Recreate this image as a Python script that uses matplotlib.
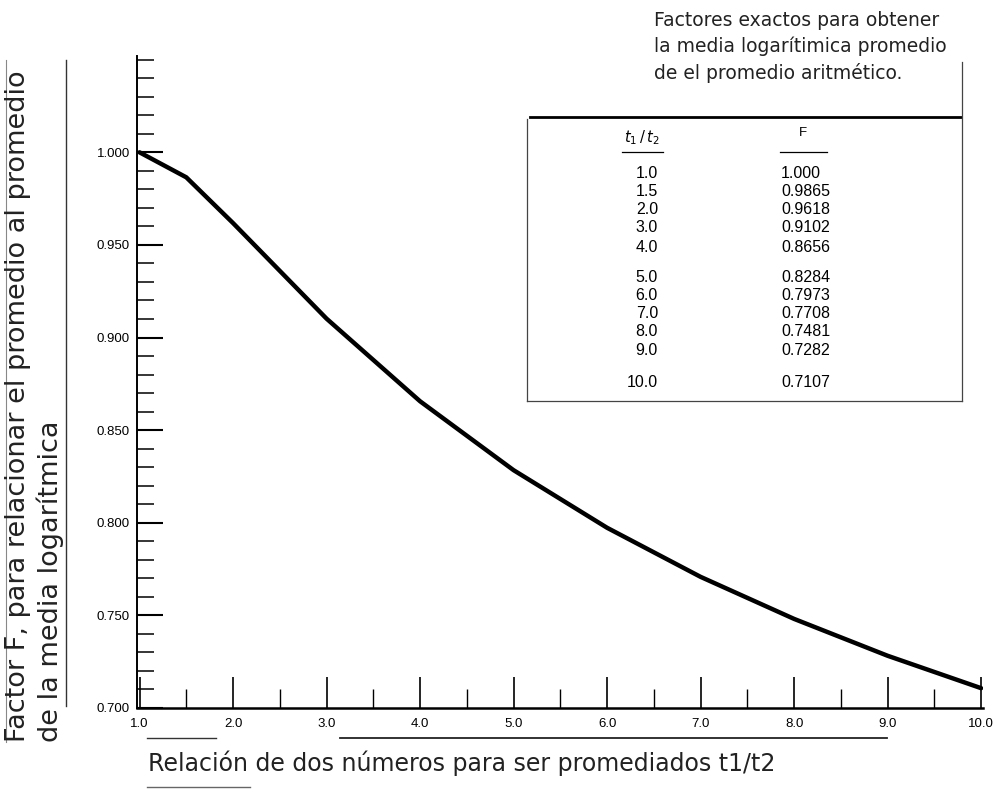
import matplotlib.pyplot as plt
from matplotlib.lines import Line2D
from matplotlib.ticker import MultipleLocator

# datos de la tabla (t1/t2 y factor F)
razon = [1.0, 1.5, 2.0, 3.0, 4.0, 5.0, 6.0, 7.0, 8.0, 9.0, 10.0]
factor = [1.000, 0.9865, 0.9618, 0.9102, 0.8656, 0.8284, 0.7973, 0.7708, 0.7481, 0.7282, 0.7107]
razon_txt = ['1.0', '1.5', '2.0', '3.0', '4.0', '5.0', '6.0', '7.0', '8.0', '9.0', '10.0']
factor_txt = ['1.000', '0.9865', '0.9618', '0.9102', '0.8656', '0.8284', '0.7973',
              '0.7708', '0.7481', '0.7282', '0.7107']
x_ticks = [1, 2, 3, 4, 5, 6, 7, 8, 9, 10]
x_labels = ['1.0', '2.0', '3.0', '4.0', '5.0', '6.0', '7.0', '8.0', '9.0', '10.0']
y_ticks = [0.70, 0.75, 0.80, 0.85, 0.90, 0.95, 1.00]
y_labels = ['0.700', '0.750', '0.800', '0.850', '0.900', '0.950', '1.000']

W, H = 1000, 789

def fx(px):
    return px / W

def fy(py):
    return 1 - py / H

plt.rcParams['font.family'] = ['DejaVu Sans']

fig = plt.figure(figsize=(10, 7.89), dpi=100)
ax = fig.add_axes([fx(137), fy(708), fx(983) - fx(137), fy(56) - fy(708)])

ax.plot(razon, factor, color='black', lw=3.2, solid_capstyle='round', solid_joinstyle='round')

ax.set_xlim(0.973, 10.02)
ax.set_ylim(0.700, 1.052)
ax.spines['top'].set_visible(False)
ax.spines['right'].set_visible(False)
ax.spines['left'].set_linewidth(1.4)
ax.spines['bottom'].set_linewidth(1.8)

ax.set_xticks(x_ticks)
ax.set_xticklabels(x_labels, family='Liberation Sans', fontsize=9.5)
ax.xaxis.set_minor_locator(MultipleLocator(0.5))
ax.set_yticks(y_ticks)
ax.set_yticklabels(y_labels, family='Liberation Sans', fontsize=9.5)
ax.yaxis.set_minor_locator(MultipleLocator(0.01))

ax.tick_params(axis='x', which='major', direction='in', length=22, width=1.2, pad=7)
ax.tick_params(axis='x', which='minor', direction='in', length=14, width=1.0)
ax.tick_params(axis='y', which='major', direction='in', length=19, width=1.5, pad=5)
ax.tick_params(axis='y', which='minor', direction='in', length=12, width=1.1)

# etiquetas de ejes
fig.text(fx(148), fy(763), 'Relación de dos números para ser promediados t1/t2',
         fontsize=17, ha='left', va='center', color='#222222')
fig.text(fx(18), fy(742), 'Factor F, para relacionar el promedio al promedio',
         fontsize=19.5, rotation=90, ha='center', va='bottom', color='#222222')
fig.text(fx(50), fy(742), 'de la media logarítmica',
         fontsize=19.5, rotation=90, ha='center', va='bottom', color='#222222')

# titulo de la tabla
titulo = ['Factores exactos para obtener',
          'la media logarítimica promedio',
          'de el promedio aritmético.']
for i, linea in enumerate(titulo):
    fig.text(fx(654), fy(20 + 26.5 * i), linea, fontsize=13.5, ha='left', va='center',
             color='#222222')

# tabla
filas_y = [173, 192, 210, 228, 247, 278, 296, 313, 332, 351, 382]
for ty, r, f in zip(filas_y, razon_txt, factor_txt):
    fig.text(fx(658), fy(ty), r, fontsize=11.5, ha='right', va='center', family='Liberation Sans')
    fig.text(fx(781), fy(ty), f, fontsize=11.5, ha='left', va='center', family='Liberation Sans')
fig.text(fx(642), fy(138), r'$t_1\,/\,t_2$', fontsize=10.5, ha='center', va='center')
fig.text(fx(803), fy(133), 'F', fontsize=9.5, ha='center', va='center', family='Liberation Sans')

def linea(x0, y0, x1, y1, lw=1.0, color='black'):
    fig.add_artist(Line2D([fx(x0), fx(x1)], [fy(y0), fy(y1)], lw=lw, color=color))

linea(530, 117, 961, 117, lw=2.0)
linea(527, 119, 527, 401, lw=0.9, color='#444444')
linea(962, 62, 962, 401, lw=0.9, color='#444444')
linea(527, 401, 962, 401, lw=0.9, color='#444444')
linea(622, 152, 663, 152, lw=0.9)
linea(780, 152, 827, 152, lw=0.9)

# lineas del escaneo
linea(147, 738, 216, 738, lw=1.0, color='#333333')
linea(340, 738, 887, 738, lw=1.3, color='#222222')
linea(147, 787, 250, 787, lw=1.0, color='#666666')
linea(66, 60, 66, 706, lw=1.0, color='#333333')
linea(6, 60, 6, 742, lw=0.8, color='#888888')

fig.savefig('out.png', dpi=100)
